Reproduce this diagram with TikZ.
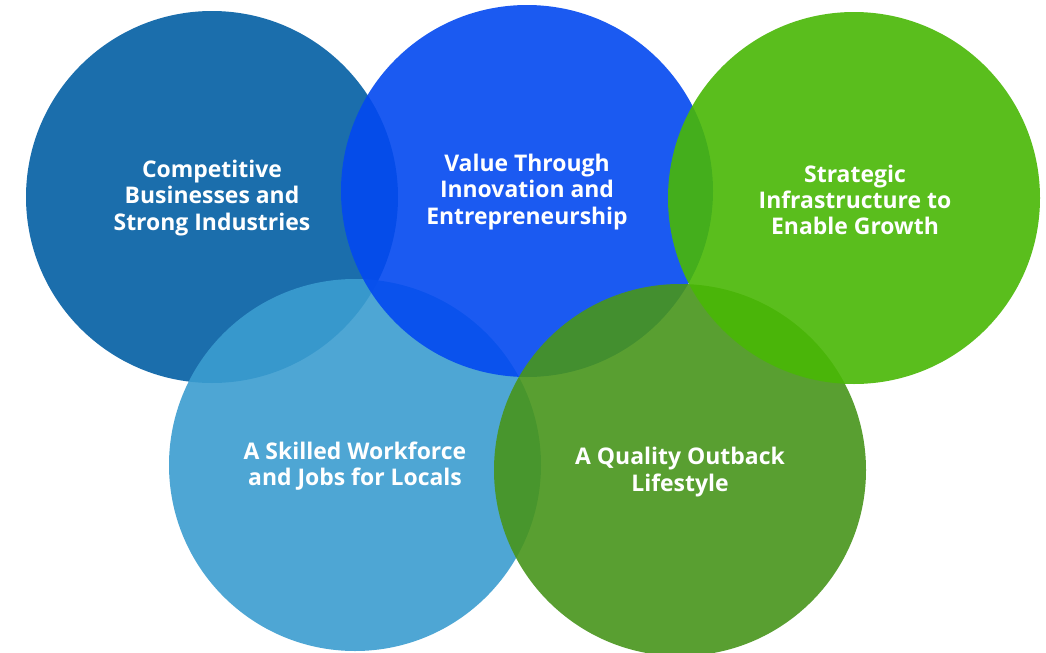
\documentclass[tikz,border=0pt]{standalone}
\usepackage{fontspec}
\setmainfont{Open Sans}[UprightFont=* Bold, Ligatures=NoCommon]
\definecolor{cDarkBlue}{RGB}{3,95,164}
\definecolor{cBrightBlue}{RGB}{3,73,240}
\definecolor{cGreen}{RGB}{73,184,5}
\definecolor{cLightBlue}{RGB}{59,157,208}
\definecolor{cDarkGreen}{RGB}{72,149,27}
\tikzset{
  bubble/.style={circle, minimum size=372*0.75pt, inner sep=0pt, fill opacity=0.9, draw=none},
  label/.style={text=white, align=center, font=\fontsize{17.2pt}{19.6pt}\selectfont}
}
\begin{document}
\begin{tikzpicture}[x=0.75pt,y=-0.75pt]
\useasboundingbox[fill=white] (0,0) rectangle (1046,653);
\node[bubble, fill=cDarkBlue] (c1) at (212,197) {};
\node[bubble, fill=cLightBlue] (c4) at (355,465) {};
\node[bubble, fill=cBrightBlue] (c2) at (527,191) {};
\node[bubble, fill=cDarkGreen] (c5) at (680,470) {};
\node[bubble, fill=cGreen] (c3) at (854,198) {};
\node[label] (t1) at (212,198) {Competitive\\Businesses and\\Strong Industries};
\node[label] (t2) at (527,192) {Value Through\\Innovation and\\Entrepreneurship};
\node[label] (t3) at (855,200) {Strategic\\Infrastructure to\\Enable Growth};
\node[label] (t4) at (355,466) {A Skilled Workforce\\and Jobs for Locals};
\node[label] (t5) at (680,472) {A Quality Outback\\Lifestyle};
\end{tikzpicture}
\end{document}
